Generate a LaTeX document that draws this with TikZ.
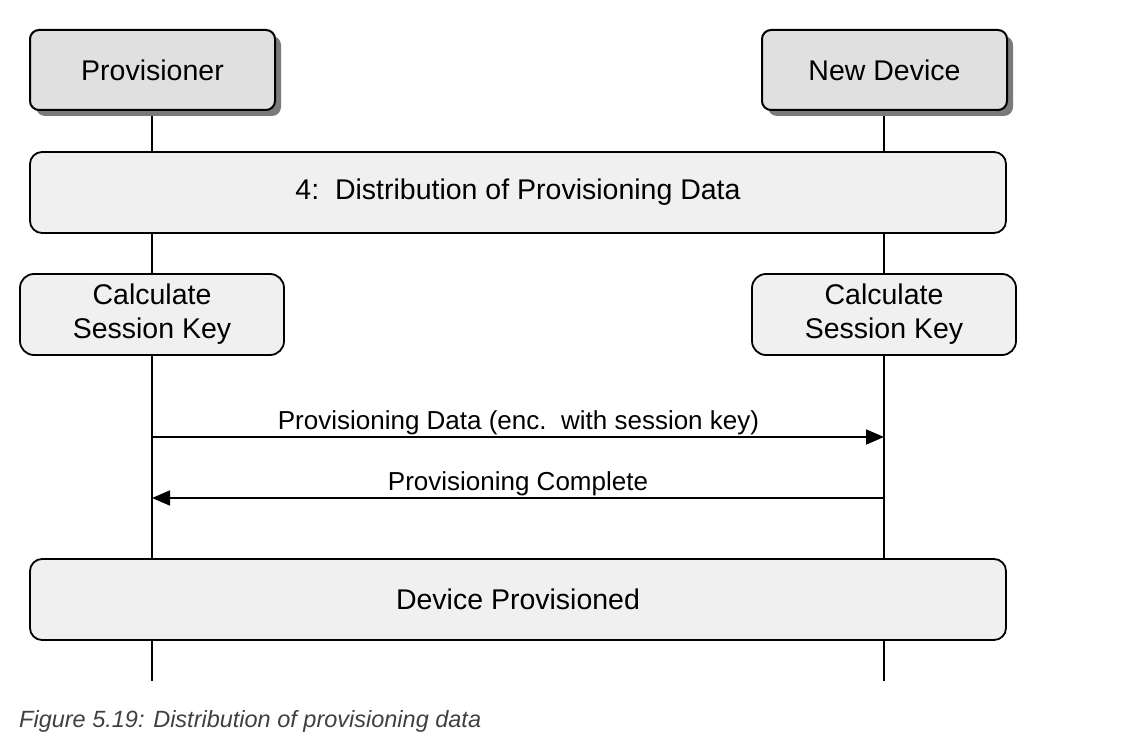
\documentclass[tikz,border=0pt]{standalone}
\usepackage{fontspec}
\setmainfont{Liberation Sans}
\usetikzlibrary{arrows.meta,backgrounds}
\definecolor{hdrfill}{HTML}{E0E0E0}
\definecolor{boxfill}{HTML}{F0F0F0}
\definecolor{shadowgray}{HTML}{7A7A7A}
\definecolor{captiongray}{HTML}{404040}
\tikzset{
  actor/.style={draw=black, line width=2pt, rounded corners=9pt, fill=hdrfill,
    minimum width=245pt, minimum height=80pt, inner sep=0pt,
    font=\fontsize{28.5}{32}\selectfont},
  phase/.style={draw=black, line width=1.8pt, rounded corners=12pt, fill=boxfill,
    minimum width=976pt, minimum height=81pt, inner sep=0pt,
    font=\fontsize{28.5}{32}\selectfont},
  action/.style={draw=black, line width=1.8pt, rounded corners=14pt, fill=boxfill,
    minimum width=264pt, minimum height=81pt, inner sep=0pt, align=center,
    font=\fontsize{28.5}{34}\selectfont},
  lifeline/.style={line width=1.8pt, black},
  msg/.style={line width=1.8pt, -{Triangle[length=18pt,width=15pt]}},
  msglabel/.style={font=\fontsize{26}{30}\selectfont, inner sep=0pt, anchor=base},
}
\begin{document}
\begin{tikzpicture}[x=1pt,y=-1pt]
\useasboundingbox (0,0) rectangle (1130,754);
% shadows of the actor boxes
\fill[shadowgray, rounded corners=9pt] (36,36) rectangle (281,116);
\fill[shadowgray, rounded corners=9pt] (768,36) rectangle (1013,116);
% actors
\node[actor] (prov) at (152.5,70) {Provisioner};
\node[actor] (dev) at (884.5,70) {New Device};
% end points of lifelines
\coordinate (provend) at (152,681);
\coordinate (devend) at (884,681);
% phases and actions
\node[phase] (dist) at (518,192.5) {4:\ \ Distribution of Provisioning Data};
\node[action] (calcP) at (152,314.5) {Calculate\\Session Key};
\node[action] (calcD) at (884,314.5) {Calculate\\Session Key};
\node[phase] (done) at (518,599.5) {Device Provisioned};
% lifelines behind
\begin{pgfonlayer}{background}
\draw[lifeline] (prov.south -| provend) -- (provend);
\draw[lifeline] (dev.south -| devend) -- (devend);
\end{pgfonlayer}
% messages
\coordinate (m1a) at (152,437);
\coordinate (m1b) at (884,437);
\coordinate (m2a) at (884,498);
\coordinate (m2b) at (152,498);
\draw[msg] (m1a) -- (m1b);
\draw[msg] (m2a) -- (m2b);
\node[msglabel] (l1) at (518.5,429) {Provisioning Data (enc.\ \ with session key)};
\node[msglabel] (l2) at (518,490) {Provisioning Complete};
% caption
\node[anchor=base west, inner sep=0pt, text=captiongray,
  font=\fontsize{23.5}{27}\selectfont\itshape] (cap) at (19,727) {Figure 5.19: Distribution of provisioning data};
\end{tikzpicture}
\end{document}
